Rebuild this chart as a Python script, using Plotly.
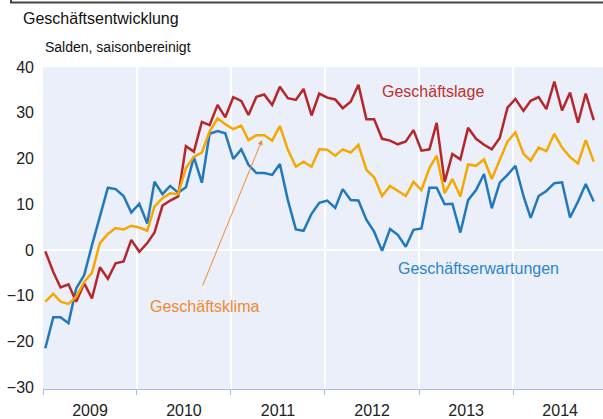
import pandas as pd
import plotly.graph_objects as go

# Monthly data, Jan 2009 .. Nov 2014
months = pd.date_range("2009-01-01", periods=71, freq="MS") + pd.Timedelta(days=9)

geschaeftslage = [
    -0.3, -4.8, -8.2, -7.5, -11.3, -7.3, -10.6, -3.8, -6.3, -2.9, -2.5, 2.2,
    -0.4, 1.5, 3.8, 9.7, 10.8, 11.7, 22.7, 21.5, 28.0, 27.3, 31.7, 29.0,
    33.4, 32.6, 29.5, 33.5, 34.0, 31.7, 35.7, 33.2, 32.8, 35.2, 29.4, 34.2,
    33.3, 32.9, 31.0, 32.4, 36.1, 28.6, 28.6, 24.3, 23.9, 23.1, 23.7, 26.2,
    21.7, 22.0, 27.8, 14.9, 21.0, 19.8, 26.7, 24.3, 23.0, 22.0, 24.5, 31.1,
    33.0, 30.4, 32.6, 33.4, 30.8, 36.8, 30.5, 34.4, 27.8, 34.2, 28.4,
]
geschaeftsklima = [
    -11.3, -9.6, -11.3, -11.8, -10.2, -7.0, -5.0, 1.5, 3.5, 4.8, 4.5, 5.3,
    4.9, 4.2, 9.5, 11.3, 12.4, 12.2, 17.9, 20.4, 21.3, 25.9, 28.8, 27.5,
    26.4, 27.2, 24.0, 25.1, 25.1, 23.9, 27.1, 21.9, 18.2, 19.3, 18.2, 22.0,
    21.9, 20.6, 22.0, 21.3, 23.0, 17.5, 15.9, 11.8, 14.0, 12.9, 11.8, 14.9,
    13.1, 17.9, 20.6, 12.4, 15.5, 11.7, 18.7, 18.4, 19.8, 15.5, 19.5, 23.7,
    25.7, 21.0, 19.5, 22.4, 21.6, 25.4, 22.4, 20.3, 18.9, 24.0, 19.3,
]
geschaeftserwartungen = [
    -21.5, -14.7, -14.7, -16.0, -8.4, -5.5, 1.0, 7.2, 13.6, 13.3, 11.8, 8.2,
    10.1, 5.8, 14.9, 12.2, 14.0, 12.5, 13.7, 20.3, 14.7, 25.4, 26.0, 25.5,
    19.9, 22.0, 18.6, 16.8, 16.8, 16.4, 18.8, 10.9, 4.5, 4.2, 7.9, 10.3,
    10.8, 9.2, 13.3, 10.9, 10.8, 6.6, 4.0, -0.2, 4.6, 3.3, 0.7, 4.4,
    4.7, 13.6, 13.6, 10.0, 10.1, 3.8, 10.9, 13.1, 16.6, 9.1, 14.7, 16.4,
    18.4, 11.8, 7.0, 11.8, 12.9, 14.6, 14.8, 7.1, 10.6, 14.4, 10.6,
]
y_ticks = [-30, -20, -10, 0, 10, 20, 30, 40]

RED = "#B5272B"
ORANGE = "#F5A800"
BLUE = "#2178BC"
FONT = "Liberation Sans, Arial, sans-serif"

fig = go.Figure()
for name, vals, col in [
    ("Geschäftserwartungen", geschaeftserwartungen, BLUE),
    ("Geschäftslage", geschaeftslage, RED),
    ("Geschäftsklima", geschaeftsklima, ORANGE),
]:
    fig.add_trace(go.Scatter(x=months, y=vals, mode="lines", name=name,
                             line=dict(color=col, width=2.5)))

W, H = 603, 419
L, R, T, B = 43, 0, 67, 30
pw, ph = W - L - R, H - T - B

def px(x):
    return (x - L) / pw

def py(y):
    return (H - B - y) / ph

annotations = [
    dict(text="Geschäftsentwicklung", x=px(21), y=py(19), xanchor="left", yanchor="middle",
         font=dict(size=16, color="#111")),
    dict(text="Salden, saisonbereinigt", x=px(43), y=py(47), xanchor="left", yanchor="middle",
         font=dict(size=14, color="#111")),
    dict(text="Geschäftslage", x=px(433), y=py(91), xanchor="center", yanchor="middle",
         font=dict(size=16, color="#C0302F")),
    dict(text="Geschäftsklima", x=px(204), y=py(306), xanchor="center", yanchor="middle",
         font=dict(size=16, color="#F08A30")),
    dict(text="Geschäftserwartungen", x=px(478), y=py(268), xanchor="center", yanchor="middle",
         font=dict(size=16, color="#2C85C8")),
    dict(text="", x=px(262), y=py(140), ax=-60, ay=147, showarrow=True,
         arrowhead=2, arrowsize=1, arrowwidth=1, arrowcolor="#F08A30"),
]
for a in annotations:
    a.setdefault("showarrow", False)
    a["xref"] = "paper"
    a["yref"] = "paper"

shapes = [
    dict(type="line", xref="paper", yref="paper", x0=px(11), x1=px(11), y0=py(-1), y1=py(3),
         line=dict(color="#444", width=2), layer="above"),
    dict(type="line", xref="paper", yref="paper", x0=px(10), x1=px(604), y0=py(2.5), y1=py(2.5),
         line=dict(color="#444", width=2), layer="above"),
]

fig.update_layout(
    width=W, height=H,
    margin=dict(l=L, r=R, t=T, b=B, autoexpand=False),
    paper_bgcolor="white",
    plot_bgcolor="#EAEFF9",
    showlegend=False,
    font=dict(family=FONT, size=16, color="#222"),
    annotations=annotations,
    shapes=shapes,
    xaxis=dict(
        type="date",
        range=["2009-01-01", "2014-12-16"],
        tick0="2009-01-01", dtick="M12",
        ticklabelmode="period", tickformat="%Y",
        showgrid=True, gridcolor="white", gridwidth=2,
        ticks="outside", ticklen=5, tickcolor="#A8BCE6",
        showline=True, linecolor="#A8BCE6", linewidth=1,
        tickfont=dict(size=16, color="#222"),
        ticklabelstandoff=2,
        zeroline=False, automargin=False,
    ),
    yaxis=dict(
        range=[-30.4, 40],
        tickvals=y_ticks,
        showgrid=False,
        zeroline=True, zerolinecolor="white", zerolinewidth=2,
        tickfont=dict(size=16, color="#222"),
        ticklabelstandoff=8, automargin=False,
    ),
)

fig.write_html(
    "out.html",
    config={"displayModeBar": False},
    post_script="document.body.style.margin='0';document.body.style.overflow='hidden';",
)
